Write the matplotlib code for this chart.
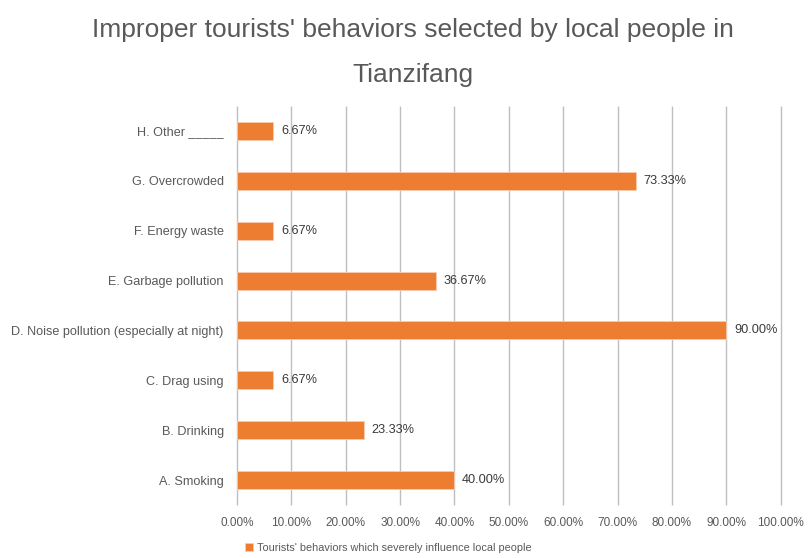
import matplotlib.pyplot as plt
from matplotlib.ticker import PercentFormatter

plt.rcParams["font.family"] = ["Liberation Sans", "DejaVu Sans"]

categories = [
    "A. Smoking",
    "B. Drinking",
    "C. Drag using",
    "D. Noise pollution (especially at night)",
    "E. Garbage pollution",
    "F. Energy waste",
    "G. Overcrowded",
    "H. Other _____",
]
shares = [40.00, 23.33, 6.67, 90.00, 36.67, 6.67, 73.33, 6.67]
x_ticks = [0, 10, 20, 30, 40, 50, 60, 70, 80, 90, 100]
series_name = "Tourists' behaviors which severely influence local people"
title = "Improper tourists' behaviors selected by local people in\nTianzifang"

BAR = "#ED7D31"
GRID = "#BFBFBF"
TEXT = "#595959"

fig = plt.figure(figsize=(8.09, 5.58), dpi=100)
ax = fig.add_axes([0.293, 0.095, 0.672, 0.715])

y = range(len(categories))
ax.barh(y, shares, height=0.36, color=BAR, edgecolor="#F8CBAD",
        linewidth=0.6, label=series_name, zorder=3)

for yi, val in zip(y, shares):
    ax.text(val + 1.4, yi, f"{val:.2f}%", va="center", ha="left",
            fontsize=9.2, color="#3A3A3A", zorder=4)

ax.set_xlim(0, 100)
ax.set_ylim(-0.5, len(categories) - 0.5)
ax.set_xticks(x_ticks)
ax.xaxis.set_major_formatter(PercentFormatter(decimals=2))
ax.set_yticks(list(y))
ax.set_yticklabels(categories, fontsize=9.1)
ax.tick_params(axis="both", length=0, colors=TEXT)
ax.tick_params(axis="x", pad=8.5, labelsize=8.5)
ax.tick_params(axis="y", pad=9.5)

# vertical grid, unclipped so the 100% line shows in full
ax.vlines(x_ticks, -0.5, len(categories) - 0.5, color=GRID, linewidth=1,
          zorder=0, clip_on=False)
for side in ["top", "right", "bottom", "left"]:
    ax.spines[side].set_visible(False)

fig.text(0.511, 0.968, title, ha="center", va="top", fontsize=19,
         color=TEXT, linespacing=2.1)

fig.legend(loc="center", bbox_to_anchor=(0.48, 0.018), frameon=False,
           fontsize=7.8, labelcolor=TEXT, handlelength=0.7, handleheight=0.7,
           handletextpad=0.4)

fig.savefig("out.png", dpi=100)
